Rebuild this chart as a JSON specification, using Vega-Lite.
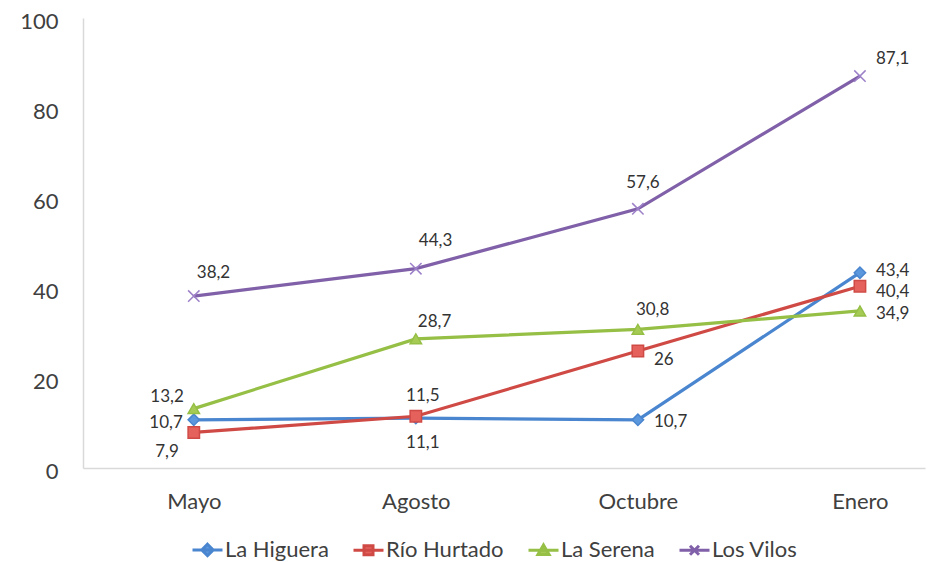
{
  "$schema": "https://vega.github.io/schema/vega-lite/v6.json",
  "width": 842,
  "height": 450,
  "autosize": {"type": "none"},
  "padding": {"left": 83, "top": 18, "right": 9, "bottom": 94},
  "background": "white",
  "config": {
    "view": {"stroke": null},
    "font": "Lato",
    "locale": {"number": {"decimal": ",", "thousands": ".", "grouping": [3], "currency": ["", ""]}}
  },
  "data": {
    "values": [
      {"mes": "Mayo", "serie": "La Higuera", "valor": 10.7},
      {"mes": "Agosto", "serie": "La Higuera", "valor": 11.1},
      {"mes": "Octubre", "serie": "La Higuera", "valor": 10.7},
      {"mes": "Enero", "serie": "La Higuera", "valor": 43.4},
      {"mes": "Mayo", "serie": "Río Hurtado", "valor": 7.9},
      {"mes": "Agosto", "serie": "Río Hurtado", "valor": 11.5},
      {"mes": "Octubre", "serie": "Río Hurtado", "valor": 26},
      {"mes": "Enero", "serie": "Río Hurtado", "valor": 40.4},
      {"mes": "Mayo", "serie": "La Serena", "valor": 13.2},
      {"mes": "Agosto", "serie": "La Serena", "valor": 28.7},
      {"mes": "Octubre", "serie": "La Serena", "valor": 30.8},
      {"mes": "Enero", "serie": "La Serena", "valor": 34.9},
      {"mes": "Mayo", "serie": "Los Vilos", "valor": 38.2},
      {"mes": "Agosto", "serie": "Los Vilos", "valor": 44.3},
      {"mes": "Octubre", "serie": "Los Vilos", "valor": 57.6},
      {"mes": "Enero", "serie": "Los Vilos", "valor": 87.1}
    ]
  },
  "encoding": {
    "x": {
      "field": "mes", "type": "ordinal",
      "sort": ["Mayo", "Agosto", "Octubre", "Enero"],
      "scale": {"type": "point", "padding": 0.396, "align": 0.63},
      "axis": {"title": null, "labelAngle": 0, "ticks": false, "grid": false, "domainColor": "#d9d9d9", "domainWidth": 1.5, "labelFontSize": 22, "labelColor": "#404040", "labelPadding": 23, "labelFont": "Lato"}
    },
    "y": {
      "field": "valor", "type": "quantitative",
      "scale": {"domain": [0, 100], "nice": false, "zero": true},
      "axis": {"title": null, "values": [0, 20, 40, 60, 80, 100], "ticks": false, "grid": false, "domainColor": "#d9d9d9", "domainWidth": 1.5, "labelFontSize": 22, "labelColor": "#404040", "labelPadding": 25, "labelOffset": 3, "labelFont": "Lato"}
    }
  },
  "layer": [
    {
      "mark": {"type": "line", "strokeWidth": 3.2},
      "encoding": {
        "color": {
          "field": "serie", "type": "nominal",
          "scale": {"domain": ["La Higuera", "Río Hurtado", "La Serena", "Los Vilos"], "range": ["#4A86CF", "#D04A45", "#95BF45", "#8060A8"]},
          "legend": {
            "orient": "none", "legendX": 108, "legendY": 515, "direction": "horizontal", "columns": 4,
            "title": null, "symbolSize": 900, "symbolStrokeWidth": 3, "labelFontSize": 22, "labelFont": "Lato", "labelColor": "#404040",
            "labelOffset": 1, "columnPadding": 18,
            "encode": {
              "symbols": {
                "update": {
                  "shape": {"signal": "datum.value === 'La Higuera' ? 'M-1,0H1M0,-0.38L0.38,0L0,0.38L-0.38,0Z' : datum.value === 'Río Hurtado' ? 'M-1,0H1M-0.3,-0.3H0.3V0.3H-0.3Z' : datum.value === 'La Serena' ? 'M-1,0H1M0,-0.35L0.37,0.28H-0.37Z' : 'M-1,0H1M-0.3,-0.3L0.3,0.3M-0.3,0.3L0.3,-0.3'"},
                  "fill": {"signal": "datum.value === 'La Higuera' ? '#5B97DD' : datum.value === 'Río Hurtado' ? '#E5615C' : datum.value === 'La Serena' ? '#A6CB55' : '#A58BD0'"},
                  "stroke": {"scale": "color", "field": "value"},
                  "opacity": {"value": 1}
                }
              }
            }
          }
        },
        "order": {"value": null}
      }
    },
    {
      "mark": {"type": "point", "filled": true, "size": 130, "strokeWidth": 1.5, "opacity": 1},
      "encoding": {
        "fill": {
          "condition": [
            {"test": "datum.serie === 'La Higuera'", "value": "#5B97DD"},
            {"test": "datum.serie === 'Río Hurtado'", "value": "#E5615C"},
            {"test": "datum.serie === 'La Serena'", "value": "#A6CB55"}
          ],
          "value": "#A58BD0"
        },
        "stroke": {
          "condition": [
            {"test": "datum.serie === 'La Higuera'", "value": "#4A86CF"},
            {"test": "datum.serie === 'Río Hurtado'", "value": "#D04A45"},
            {"test": "datum.serie === 'La Serena'", "value": "#95BF45"}
          ],
          "value": "#9C80C8"
        },
        "shape": {
          "condition": [
            {"test": "datum.serie === 'La Higuera'", "value": "diamond"},
            {"test": "datum.serie === 'Río Hurtado'", "value": "square"},
            {"test": "datum.serie === 'La Serena'", "value": "triangle-up"}
          ],
          "value": "M-1,-1L1,1M-1,1L1,-1"
        }
      }
    },
    {
      "transform": [{"filter": "datum.serie === 'La Higuera' && datum.mes === 'Octubre'"}],
      "mark": {"type": "text", "align": "left", "baseline": "middle", "dx": 16, "dy": 2, "fontSize": 17, "font": "Lato", "color": "#333333"},
      "encoding": {"text": {"field": "valor", "type": "quantitative", "format": "~g"}}
    },
    {
      "transform": [{"filter": "datum.serie === 'La Serena' && datum.mes === 'Enero'"}],
      "mark": {"type": "text", "align": "left", "baseline": "middle", "dx": 16, "dy": 3, "fontSize": 17, "font": "Lato", "color": "#333333"},
      "encoding": {"text": {"field": "valor", "type": "quantitative", "format": "~g"}}
    },
    {
      "transform": [{"filter": "datum.serie === 'La Higuera' && datum.mes === 'Enero'"}],
      "mark": {"type": "text", "align": "left", "baseline": "middle", "dx": 16, "dy": -2, "fontSize": 17, "font": "Lato", "color": "#333333"},
      "encoding": {"text": {"field": "valor", "type": "quantitative", "format": "~g"}}
    },
    {
      "transform": [{"filter": "datum.serie === 'Los Vilos' && datum.mes === 'Mayo'"}],
      "mark": {"type": "text", "align": "left", "baseline": "middle", "dx": 3, "dy": -23, "fontSize": 17, "font": "Lato", "color": "#333333"},
      "encoding": {"text": {"field": "valor", "type": "quantitative", "format": "~g"}}
    },
    {
      "transform": [{"filter": "datum.serie === 'Los Vilos' && datum.mes === 'Agosto'"}],
      "mark": {"type": "text", "align": "left", "baseline": "middle", "dx": 3, "dy": -28, "fontSize": 17, "font": "Lato", "color": "#333333"},
      "encoding": {"text": {"field": "valor", "type": "quantitative", "format": "~g"}}
    },
    {
      "transform": [{"filter": "datum.serie === 'Los Vilos' && datum.mes === 'Octubre'"}],
      "mark": {"type": "text", "align": "center", "baseline": "middle", "dx": 5, "dy": -26, "fontSize": 17, "font": "Lato", "color": "#333333"},
      "encoding": {"text": {"field": "valor", "type": "quantitative", "format": "~g"}}
    },
    {
      "transform": [{"filter": "datum.serie === 'Los Vilos' && datum.mes === 'Enero'"}],
      "mark": {"type": "text", "align": "left", "baseline": "middle", "dx": 16, "dy": -17, "fontSize": 17, "font": "Lato", "color": "#333333"},
      "encoding": {"text": {"field": "valor", "type": "quantitative", "format": "~g"}}
    },
    {
      "transform": [{"filter": "datum.serie === 'La Serena' && datum.mes === 'Mayo'"}],
      "mark": {"type": "text", "align": "right", "baseline": "middle", "dx": -10, "dy": -12, "fontSize": 17, "font": "Lato", "color": "#333333"},
      "encoding": {"text": {"field": "valor", "type": "quantitative", "format": "~g"}}
    },
    {
      "transform": [{"filter": "datum.serie === 'La Serena' && datum.mes === 'Agosto'"}],
      "mark": {"type": "text", "align": "left", "baseline": "middle", "dx": 2, "dy": -17, "fontSize": 17, "font": "Lato", "color": "#333333"},
      "encoding": {"text": {"field": "valor", "type": "quantitative", "format": "~g"}}
    },
    {
      "transform": [{"filter": "datum.serie === 'La Serena' && datum.mes === 'Octubre'"}],
      "mark": {"type": "text", "align": "left", "baseline": "middle", "dx": -2, "dy": -19, "fontSize": 17, "font": "Lato", "color": "#333333"},
      "encoding": {"text": {"field": "valor", "type": "quantitative", "format": "~g"}}
    },
    {
      "transform": [{"filter": "datum.serie === 'La Higuera' && datum.mes === 'Mayo'"}],
      "mark": {"type": "text", "align": "right", "baseline": "middle", "dx": -11, "dy": 3, "fontSize": 17, "font": "Lato", "color": "#333333"},
      "encoding": {"text": {"field": "valor", "type": "quantitative", "format": "~g"}}
    },
    {
      "transform": [{"filter": "datum.serie === 'La Higuera' && datum.mes === 'Agosto'"}],
      "mark": {"type": "text", "align": "center", "baseline": "middle", "dx": 7, "dy": 25, "fontSize": 17, "font": "Lato", "color": "#333333"},
      "encoding": {"text": {"field": "valor", "type": "quantitative", "format": "~g"}}
    },
    {
      "transform": [{"filter": "datum.serie === 'Río Hurtado' && datum.mes === 'Mayo'"}],
      "mark": {"type": "text", "align": "right", "baseline": "middle", "dx": -15, "dy": 20, "fontSize": 17, "font": "Lato", "color": "#333333"},
      "encoding": {"text": {"field": "valor", "type": "quantitative", "format": "~g"}}
    },
    {
      "transform": [{"filter": "datum.serie === 'Río Hurtado' && datum.mes === 'Agosto'"}],
      "mark": {"type": "text", "align": "center", "baseline": "middle", "dx": 7, "dy": -20, "fontSize": 17, "font": "Lato", "color": "#333333"},
      "encoding": {"text": {"field": "valor", "type": "quantitative", "format": "~g"}}
    },
    {
      "transform": [{"filter": "datum.serie === 'Río Hurtado' && datum.mes === 'Octubre'"}],
      "mark": {"type": "text", "align": "left", "baseline": "middle", "dx": 16, "dy": 9, "fontSize": 17, "font": "Lato", "color": "#333333"},
      "encoding": {"text": {"field": "valor", "type": "quantitative", "format": "~g"}}
    },
    {
      "transform": [{"filter": "datum.serie === 'Río Hurtado' && datum.mes === 'Enero'"}],
      "mark": {"type": "text", "align": "left", "baseline": "middle", "dx": 16, "dy": 6, "fontSize": 17, "font": "Lato", "color": "#333333"},
      "encoding": {"text": {"field": "valor", "type": "quantitative", "format": "~g"}}
    }
  ]
}
